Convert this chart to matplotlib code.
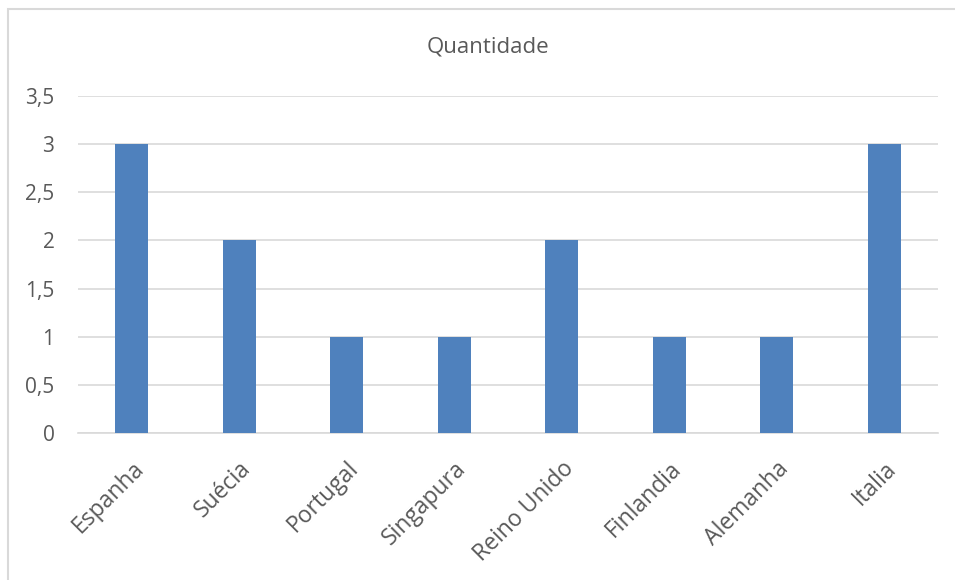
import matplotlib.pyplot as plt
from matplotlib.patches import Rectangle

plt.rcParams['font.family'] = ['Open Sans', 'DejaVu Sans']

# dados do gráfico
paises = ['Espanha', 'Suécia', 'Portugal', 'Singapura', 'Reino Unido', 'Finlandia', 'Alemanha', 'Italia']
quantidade = [3, 2, 1, 1, 2, 1, 1, 3]
yticks = [0, 0.5, 1, 1.5, 2, 2.5, 3, 3.5]
ytick_labels = ['0', '0,5', '1', '1,5', '2', '2,5', '3', '3,5']

texto = '#595959'
grade = '#D9D9D9'

fig = plt.figure(figsize=(9.55, 5.8), dpi=100)
# moldura do gráfico (cortada à direita e em baixo)
fig.patches.append(Rectangle((8 / 955, -0.1), 1.2, 1 - 9 / 580 + 0.1,
                             transform=fig.transFigure, fill=False,
                             edgecolor='#D9D9D9', linewidth=1.5))

ax = fig.add_axes([78 / 955, 1 - 433 / 580, 860 / 955, 337 / 580])
x = range(len(paises))
ax.bar(x, quantidade, width=0.31, color='#4F81BD', zorder=3)

ax.set_xlim(-0.5, len(paises) - 0.5)
ax.set_ylim(0, 3.5)
ax.set_yticks(yticks)
ax.set_yticklabels(ytick_labels, color=texto, fontsize=15)
ax.set_xticks(list(x))
ax.set_xticklabels(paises, rotation=45, ha='right', rotation_mode='anchor',
                   color=texto, fontsize=16.5)
ax.tick_params(axis='y', length=0, pad=17)
ax.tick_params(axis='x', length=0, pad=17)
ax.grid(axis='y', color=grade, linewidth=1.2, zorder=0)
for s in ['top', 'right', 'left']:
    ax.spines[s].set_visible(False)
ax.spines['bottom'].set_color(grade)
ax.spines['bottom'].set_linewidth(1.2)

fig.text(488 / 955, 1 - 47 / 580, 'Quantidade', ha='center', va='center',
         color=texto, fontsize=16)

fig.savefig('out.png', dpi=100, facecolor='white')
